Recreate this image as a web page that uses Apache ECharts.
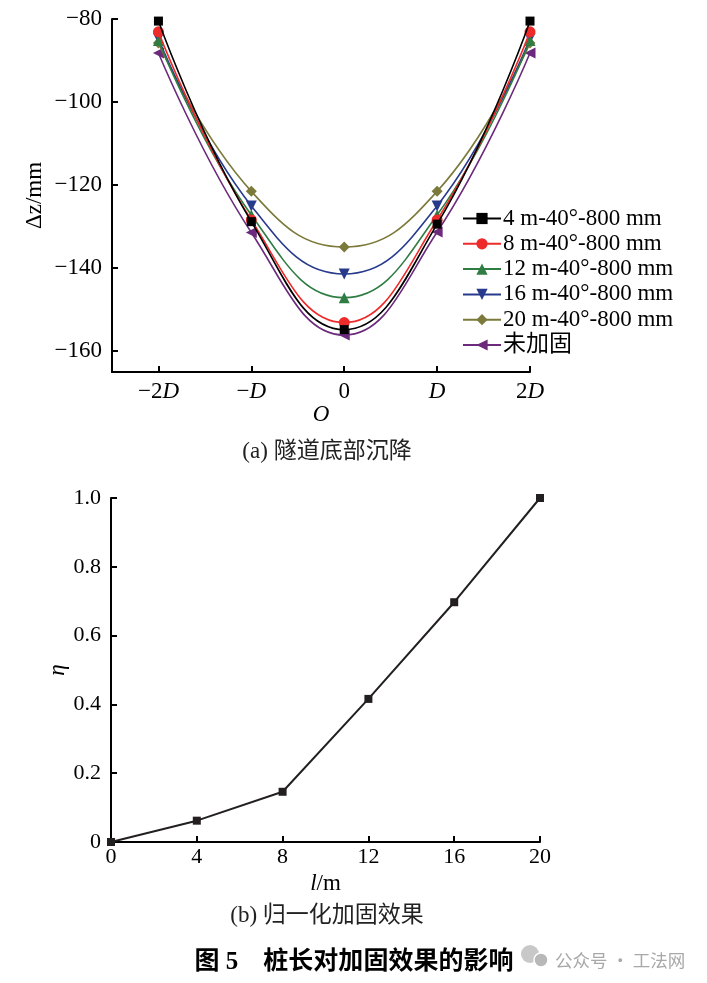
<!DOCTYPE html>
<html><head><meta charset="utf-8">
<script src="https://cdn.jsdelivr.net/npm/echarts@6/dist/echarts.min.js"></script>
<style>html,body{margin:0;padding:0;background:#fff}#c{width:707px;height:983px}</style>
</head><body><div id="c"></div>
<script>
// ---- data (top chart: settlement at tunnel bottom) ----
const xPos = [-2, -1, 0, 1, 2];
const xTickNum = ['−2', '−', '0', '', '2'];
const xTickItalic = ['D', 'D', '', 'D', 'D'];
const yTickValues = [-160, -140, -120, -100, -80];
const yTickLabels = ['−160', '−140', '−120', '−100', '−80'];
const seriesNames = ['4 m-40°-800 mm', '8 m-40°-800 mm', '12 m-40°-800 mm', '16 m-40°-800 mm', '20 m-40°-800 mm', '未加固'];
const s4 = [-80.5, -128.8, -154.8, -129.4, -80.5];
const s8 = [-83.1, -128.4, -153.1, -128.4, -83.1];
const s12 = [-85.2, -127.2, -147.1, -127.2, -85.2];
const s16 = [-84.7, -125.0, -141.4, -125.0, -84.7];
const s20 = [-85.8, -121.5, -134.9, -121.5, -85.8];
const sNone = [-88.2, -131.4, -156.1, -131.3, -88.2];
// ---- data (bottom chart: normalized reinforcement effect) ----
const pileLen = [0, 4, 8, 12, 16, 20];
const eta = [0, 0.062, 0.146, 0.416, 0.697, 1.0];
const etaTickLabels = ['0', '0.2', '0.4', '0.6', '0.8', '1.0'];

const F = '"Liberation Serif","Times New Roman","Noto Sans CJK SC",serif';
const colors = ['#000000', '#ee2b2b', '#2f7d43', '#283a8c', '#7b7a3a', '#6b2a7c'];
const symbols = ['rect', 'circle', 'triangle', 'path://M0,0 L10,0 L5,10 Z', 'diamond', 'path://M10,0 L10,10 L0,5 Z'];
const allData = [s4, s8, s12, s16, s20, sNone];

const chart = echarts.init(document.getElementById('c'), null, {renderer: 'canvas'});
const axisLineStyle = {color: '#000', width: 2};
const topSeries = allData.map((d, i) => ({
  name: seriesNames[i], type: 'line', xAxisIndex: 0, yAxisIndex: 0,
  data: d.map((v, j) => [xPos[j], v]), smooth: 0.45,
  symbol: symbols[i], symbolSize: i === 0 ? 9 : 11,
  lineStyle: {width: 1.6, color: colors[i]}, itemStyle: {color: colors[i]},
  z: 10 - i
}));

const option = {
  animation: false,
  backgroundColor: '#fff',
  textStyle: {fontFamily: F, color: '#000'},
  title: [
    {text: '(a) 隧道底部沉降', left: 322, top: 435, textAlign: 'center',
      textStyle: {fontFamily: F, fontSize: 23, fontWeight: 'normal', color: '#222'}},
    {text: '(b) 归一化加固效果', left: 322, top: 899, textAlign: 'center',
      textStyle: {fontFamily: F, fontSize: 23, fontWeight: 'normal', color: '#222'}},
    {text: '{a|图 }{b|5}{a|　桩长对加固效果的影响}', left: 349, top: 945, textAlign: 'center',
      textStyle: {rich: {
        a: {fontFamily: F, fontSize: 25, fontWeight: 'bold', color: '#000'},
        b: {fontFamily: F, fontSize: 25, fontWeight: 'bold', color: '#000'}}}},
    {text: '公众号 · 工法网', left: 550, top: 947,
      textStyle: {fontFamily: '"Noto Sans CJK SC",sans-serif', fontSize: 17.5, fontWeight: 'normal', color: '#a8a8a8'}}
  ],
  graphic: [
    {type: 'circle', shape: {cx: 530, cy: 954, r: 9}, style: {fill: '#c8c8c8'}},
    {type: 'circle', shape: {cx: 541, cy: 960, r: 7}, style: {fill: '#b8b8b8', stroke: '#fff', lineWidth: 1.5}}
  ],
  legend: {
    orient: 'vertical', left: 462, top: 207, padding: 0,
    itemWidth: 38, itemHeight: 14, itemGap: 2.3,
    data: seriesNames,
    textStyle: {fontFamily: F, fontSize: 23, lineHeight: 23, color: '#000', padding: [0, 0, 0, -3]}
  },
  grid: [
    {left: 112, top: 19, width: 418, height: 353},
    {left: 111, top: 498, width: 429, height: 344}
  ],
  xAxis: [
    {type: 'value', gridIndex: 0, min: -2.5, max: 2,
      axisLine: {onZero: false, lineStyle: axisLineStyle},
      axisTick: {inside: true, length: 6, lineStyle: {width: 2, color: '#000'}, customValues: xPos},
      axisLabel: {customValues: xPos, margin: 8, fontSize: 23, color: '#000',
        formatter: v => { const k = xPos.indexOf(v); if (k < 0) return '';
          return (xTickNum[k] ? '{n|' + xTickNum[k] + '}' : '') + (xTickItalic[k] ? '{i|' + xTickItalic[k] + '}' : ''); },
        rich: {n: {fontFamily: F, fontSize: 23, color: '#000'}, i: {fontFamily: F, fontSize: 23, fontStyle: 'italic', color: '#000'}}},
      splitLine: {show: false},
      name: 'O', nameLocation: 'middle', nameGap: 31, nameMoveOverlap: false,
      nameTextStyle: {fontFamily: F, fontSize: 23, fontStyle: 'italic', color: '#000'}},
    {type: 'value', gridIndex: 1, min: 0, max: 20, interval: 4,
      axisLine: {onZero: false, lineStyle: axisLineStyle},
      axisTick: {inside: true, length: 6, lineStyle: {width: 2, color: '#000'}},
      axisLabel: {margin: 4, fontSize: 22, color: '#000', fontFamily: F},
      splitLine: {show: false},
      name: '{i|l}{n|/m}', nameLocation: 'middle', nameGap: 30, nameMoveOverlap: false,
      nameTextStyle: {rich: {i: {fontFamily: F, fontSize: 23, fontStyle: 'italic', color: '#000'}, n: {fontFamily: F, fontSize: 23, color: '#000'}}}}
  ],
  yAxis: [
    {type: 'value', gridIndex: 0, min: -165, max: -80,
      axisLine: {onZero: false, lineStyle: axisLineStyle},
      axisTick: {inside: true, length: 6, lineStyle: {width: 2, color: '#000'}, customValues: yTickValues},
      axisLabel: {customValues: yTickValues, margin: 10, fontSize: 23, color: '#000', fontFamily: F,
        formatter: v => { const k = yTickValues.indexOf(v); return k < 0 ? '' : yTickLabels[k]; }},
      splitLine: {show: false},
      name: 'Δz/mm', nameLocation: 'middle', nameGap: 66, nameMoveOverlap: false,
      nameTextStyle: {fontFamily: F, fontSize: 23, color: '#000'}},
    {type: 'value', gridIndex: 1, min: 0, max: 1, interval: 0.2,
      axisLine: {onZero: false, lineStyle: axisLineStyle},
      axisTick: {inside: true, length: 6, lineStyle: {width: 2, color: '#000'}},
      axisLabel: {margin: 10, fontSize: 22, color: '#000', fontFamily: F,
        formatter: v => etaTickLabels[Math.round(v * 5)]},
      splitLine: {show: false},
      name: 'η', nameLocation: 'middle', nameGap: 42, nameMoveOverlap: false,
      nameTextStyle: {fontFamily: F, fontSize: 23, fontStyle: 'italic', color: '#000'}}
  ],
  series: topSeries.concat([{
    name: 'eta', type: 'line', xAxisIndex: 1, yAxisIndex: 1,
    data: pileLen.map((x, i) => [x, eta[i]]),
    symbol: 'rect', symbolSize: 8,
    lineStyle: {width: 2, color: '#231f20'}, itemStyle: {color: '#231f20'}
  }])
};
chart.setOption(option);
</script></body></html>
